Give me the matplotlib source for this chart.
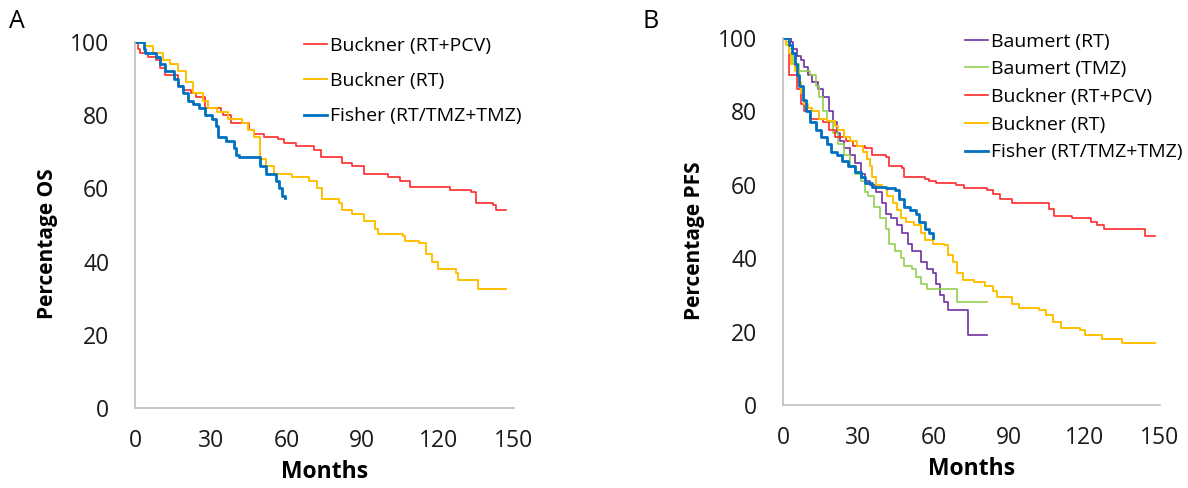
import matplotlib.pyplot as plt

plt.rcParams["font.family"] = ["Open Sans", "DejaVu Sans"]

# ---- Panel A: overall survival ----
os_rtpcv_t = [0, 1, 2, 5, 8.5, 10, 12, 15.5, 17, 19, 22, 24, 27.6, 34, 35, 38, 43, 45, 47, 51,
              56.6, 59, 63.7, 70.8, 73.6, 82, 86, 90.6, 100, 105, 109, 124.5, 133, 135, 141.5, 143, 147]
os_rtpcv_y = [100, 98, 97, 96, 95, 93, 91, 91, 88, 87, 86, 85, 82, 81, 80, 78, 78, 76, 75, 74,
              73.5, 72.5, 71.5, 70.5, 68.5, 67, 66, 64, 63, 62, 60.5, 59.5, 59, 56, 55.5, 54, 54]

os_rt_t = [0, 4, 7, 11, 14, 17, 20, 23, 27, 29, 32.5, 37, 42.5, 44.6, 47, 49.5, 52, 55, 62, 69,
           72, 74, 80.6, 82, 86, 90.5, 95, 96, 106, 107, 112.5, 115, 117.5, 120, 127, 128, 135.8, 147]
os_rt_y = [100, 99, 97, 95, 94, 92, 89, 86, 84, 82, 81, 79, 78, 76, 74, 68, 66, 64, 63, 62,
           60, 57, 56, 54, 53, 51, 49, 47.5, 47, 45.5, 45, 42, 40, 38, 37, 35, 32.5, 32.5]

os_fisher_t = [0, 3.5, 4, 8.5, 10, 12, 15.5, 17, 19, 21, 23, 25.5, 27.6, 30.4, 32, 33, 36, 39,
               40, 41, 49.5, 52, 56, 57, 58, 59.4]
os_fisher_y = [100, 98, 97, 96, 94, 92, 90, 88, 86, 84, 83, 82, 80, 79, 77, 74, 73, 71,
               69, 68.5, 66, 64, 62, 60, 58, 57.5]

# ---- Panel B: progression-free survival ----
pfs_brt_t = [0, 3.3, 4, 5.5, 7, 8.5, 10, 11.5, 13.8, 16, 18.3, 19.8, 21.3, 22.8, 24.3, 26.5, 28.8,
             31, 32.5, 34.8, 37, 39.3, 40.8, 43, 45.3, 47.5, 49.8, 51.3, 55, 57.3, 59.5, 61, 62.5,
             64, 65.5, 67, 73.8, 81.3]
pfs_brt_y = [100, 99, 97, 95, 94, 92, 90, 88, 86, 84, 80, 77, 74, 72, 70, 68, 66,
             63, 61, 60, 58, 55, 52, 51, 49, 47, 44, 42, 39, 37, 36, 33,
             30, 28, 26, 26, 19, 19]

pfs_btmz_t = [0, 1, 2.5, 4, 6.3, 9.3, 10.8, 13, 14.5, 16, 17.5, 19.8, 22, 24.3, 26.5, 28.8, 31,
              32.5, 34, 36.3, 38.6, 40.8, 42.3, 44.6, 46.8, 48.3, 51.3, 52.8, 55, 57.3, 69.3, 81.3]
pfs_btmz_y = [100, 99, 97, 93, 91, 91, 90, 87, 84, 80, 77, 74, 71, 68, 65, 63, 61,
              58, 57, 54, 51, 48, 44, 42, 40, 38, 37, 35, 33, 31.5, 28, 28]

pfs_rtpcv_t = [0, 2.3, 5.5, 7, 8.5, 10.8, 16, 18.3, 20.5, 25, 28, 32.5, 35.5, 40.8, 42.3, 47.5, 48.3,
               56.5, 58, 61, 69, 72, 81, 83.5, 86.5, 91, 103.8, 106, 108, 115, 122.5, 124.8,
               127.8, 144, 148]
pfs_rtpcv_y = [100, 90, 86, 82, 80, 78, 77, 75, 73, 72, 70.5, 70, 68, 67.5, 65, 64.5, 62,
               61.5, 61, 60.5, 60, 59, 58.5, 57.5, 56, 55, 55, 53.5, 51.5, 51, 50, 49,
               48, 46, 46]

pfs_rt_t = [0, 1, 2.5, 3.3, 4.8, 6.3, 7, 8.5, 10, 11.5, 14.5, 17.5, 20.5, 22, 24.3, 26.5, 29.5,
            31.8, 33.3, 34.8, 35.5, 37, 39.3, 41.5, 43.8, 45.3, 46.8, 49, 52, 55, 56.5, 59.5, 64,
            65.5, 67.8, 69.3, 71.5, 76, 80.5, 83.5, 85, 91, 94, 102, 104.5, 107.5, 110.5, 118,
            120, 127, 135, 148]
pfs_rt_y = [100, 98, 96, 93, 91, 88, 85, 82, 81, 80, 78, 77.5, 76, 75, 73, 72, 70.5,
            69, 67, 65, 62, 60, 59, 57, 55, 53, 51, 50, 49, 47, 45, 44, 43.5,
            41, 39, 36, 34, 33.5, 32.5, 31, 29.5, 27.5, 26.5, 26, 24.5, 22.5, 21, 20.5,
            19, 18, 17, 17]

pfs_fisher_t = [0, 2.3, 3.5, 4.8, 5.5, 6.3, 7.8, 9.3, 10.8, 13, 15.3, 17.5, 19, 21.3, 23.5, 25.8,
                28.8, 31, 32.5, 35.5, 40.8, 44.5, 46, 48.3, 50.5, 52.8, 54.3, 56.5, 58, 59.5]
pfs_fisher_y = [100, 98, 96, 93, 90, 87, 83, 80, 77, 75, 73, 71, 69, 68, 66.5, 65,
                63.5, 62, 60.5, 59.5, 59, 58.5, 56, 54, 53, 52, 50, 48, 47, 45.5]

RED = "#FF2A2A"
YELLOW = "#FFC000"
BLUE = "#0070C0"
PURPLE = "#7030A0"
GREEN = "#92D050"
AXIS_GRAY = "#BFBFBF"

W, H = 1188, 488
fig = plt.figure(figsize=(W / 100, H / 100), dpi=100)
axA = fig.add_axes([135 / W, 1 - 408 / H, 379 / W, 366 / H])
axB = fig.add_axes([783 / W, 1 - 405 / H, 377 / W, 367 / H])


def style(ax, ylabel, ylab_xy):
    ax.set_xlim(0, 150)
    ax.set_ylim(0, 100)
    ax.set_xticks([0, 30, 60, 90, 120, 150])
    ax.set_yticks([0, 20, 40, 60, 80, 100])
    for s in ["top", "right"]:
        ax.spines[s].set_visible(False)
    for s in ["left", "bottom"]:
        ax.spines[s].set_color(AXIS_GRAY)
        ax.spines[s].set_linewidth(1.2)
    ax.tick_params(axis="both", length=0, labelsize=16.5, colors="#1a1a1a")
    ax.tick_params(axis="y", pad=18.5)
    ax.tick_params(axis="x", pad=15)
    ax.set_xlabel("Months", fontsize=16.5, fontweight="bold", labelpad=5)
    ax.set_ylabel(ylabel, fontsize=15, fontweight="bold")
    ax.yaxis.set_label_coords(*ylab_xy)


def add_legend(ax, x_px, top_px, spacing):
    ax.legend(loc="upper left", bbox_to_anchor=(x_px / W, 1 - top_px / H),
              bbox_transform=fig.transFigure, frameon=False, fontsize=14,
              handlelength=1.2, handletextpad=0.15, labelspacing=spacing,
              borderpad=0, borderaxespad=0)


# Panel A
axA.plot(os_rtpcv_t, os_rtpcv_y, drawstyle="steps-post", color=RED, lw=1.2, label="Buckner (RT+PCV)")
axA.plot(os_rt_t, os_rt_y, drawstyle="steps-post", color=YELLOW, lw=1.4, label="Buckner (RT)")
axA.plot(os_fisher_t, os_fisher_y, drawstyle="steps-post", color=BLUE, lw=2, label="Fisher (RT/TMZ+TMZ)")
style(axA, "Percentage OS", (-0.203, 0.448))
add_legend(axA, 304, 36.5, 0.9)

# Panel B
axB.plot(pfs_brt_t, pfs_brt_y, drawstyle="steps-post", color=PURPLE, lw=1.2, label="Baumert (RT)")
axB.plot(pfs_btmz_t, pfs_btmz_y, drawstyle="steps-post", color=GREEN, lw=1.2, label="Baumert (TMZ)")
axB.plot(pfs_rtpcv_t, pfs_rtpcv_y, drawstyle="steps-post", color=RED, lw=1.2, label="Buckner (RT+PCV)")
axB.plot(pfs_rt_t, pfs_rt_y, drawstyle="steps-post", color=YELLOW, lw=1.4, label="Buckner (RT)")
axB.plot(pfs_fisher_t, pfs_fisher_y, drawstyle="steps-post", color=BLUE, lw=2, label="Fisher (RT/TMZ+TMZ)")
style(axB, "Percentage PFS", (-0.207, 0.447))
add_legend(axB, 965, 32.5, 0.5)

fig.text(9 / W, 1 - 22 / H, "A", fontsize=18, va="center", ha="left")
fig.text(643 / W, 1 - 22 / H, "B", fontsize=18, va="center", ha="left")

fig.savefig("out.png", dpi=100)
